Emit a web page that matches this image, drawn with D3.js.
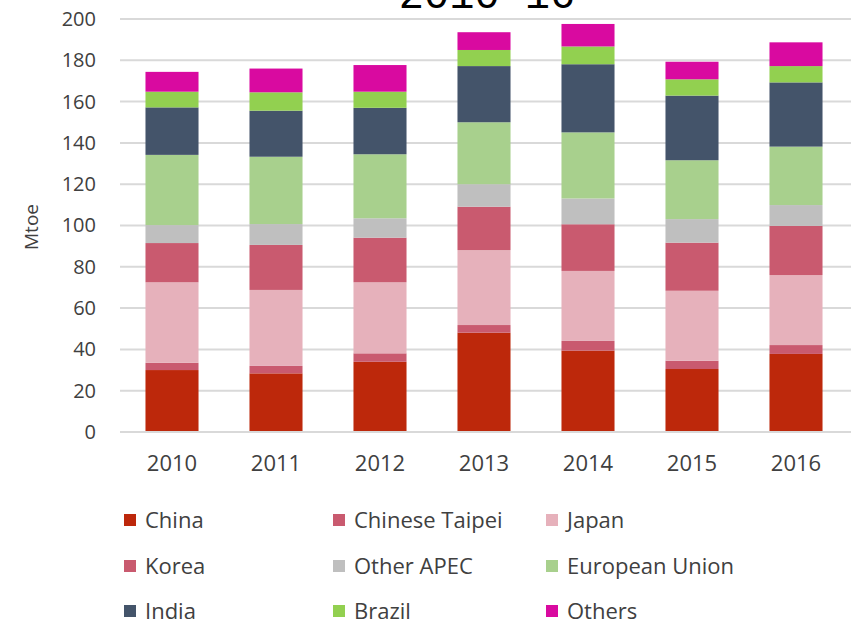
<!DOCTYPE html>
<html>
<head>
<meta charset="utf-8">
<script src="https://cdn.jsdelivr.net/npm/d3@7"></script>
<style>
  body { margin: 0; background: #fff; }
  svg { display: block; }
</style>
</head>
<body>
<script>
// years on the x axis
const years = ["2010", "2011", "2012", "2013", "2014", "2015", "2016"];

// series, bottom to top (Mtoe)
const china          = [30.0, 28.4, 34.0, 48.1, 39.4, 30.5, 37.8];
const chineseTaipei  = [3.5, 3.6, 4.1, 3.7, 4.7, 4.0, 4.3];
const japan          = [39.0, 36.8, 34.4, 36.3, 33.9, 33.9, 33.9];
const korea          = [19.0, 21.8, 21.6, 21.0, 22.6, 23.3, 23.8];
const otherApec      = [8.7, 10.1, 9.4, 10.9, 12.5, 11.4, 10.1];
const europeanUnion  = [34.0, 32.6, 31.0, 30.0, 32.0, 28.5, 28.3];
const india          = [23.0, 22.3, 22.5, 27.2, 33.0, 31.3, 31.1];
const brazil         = [7.6, 8.9, 7.8, 7.8, 8.6, 7.9, 7.9];
const others         = [9.6, 11.5, 12.9, 8.6, 10.9, 8.5, 11.5];

const seriesNames = ["China", "Chinese Taipei", "Japan", "Korea", "Other APEC",
                     "European Union", "India", "Brazil", "Others"];
const yTicks = [0, 20, 40, 60, 80, 100, 120, 140, 160, 180, 200];

const colors = {
  "China": "#bd280b",
  "Chinese Taipei": "#c95a6f",
  "Japan": "#e6b1bb",
  "Korea": "#c95a6f",
  "Other APEC": "#bfbfbf",
  "European Union": "#a8d08d",
  "India": "#44546a",
  "Brazil": "#92d050",
  "Others": "#d90aa0"
};

const seriesValues = [china, chineseTaipei, japan, korea, otherApec,
                      europeanUnion, india, brazil, others];

// table for d3.stack
const table = years.map((yr, i) => {
  const row = { year: yr };
  seriesNames.forEach((name, k) => { row[name] = seriesValues[k][i]; });
  return row;
});

const width = 851, height = 625;
const svg = d3.select("body").append("svg")
  .attr("width", width)
  .attr("height", height);

const x = d3.scaleBand()
  .domain(years)
  .range([120, 848])
  .paddingInner(0.49)
  .paddingOuter(0.245);

const y = d3.scaleLinear()
  .domain([0, 200])
  .range([432, 19]);

const fontFam = "'Open Sans', 'Liberation Sans', sans-serif";

// gridlines
svg.append("g")
  .selectAll("line")
  .data(yTicks.slice(1))
  .join("line")
  .attr("x1", 120)
  .attr("x2", 851)
  .attr("y1", d => y(d))
  .attr("y2", d => y(d))
  .attr("stroke", "#d9d9d9")
  .attr("stroke-width", 2);

// stacked bars
const stack = d3.stack().keys(seriesNames);
const layers = stack(table);

svg.append("g")
  .selectAll("g")
  .data(layers)
  .join("g")
  .attr("fill", d => colors[d.key])
  .selectAll("rect")
  .data(d => d)
  .join("rect")
  .attr("x", d => x(d.data.year))
  .attr("width", x.bandwidth())
  .attr("y", d => y(d[1]))
  .attr("height", d => y(d[0]) - y(d[1]));

// baseline
svg.append("line")
  .attr("x1", 120).attr("x2", 851)
  .attr("y1", y(0)).attr("y2", y(0))
  .attr("stroke", "#d9d9d9")
  .attr("stroke-width", 2);

// y axis
const yAxis = svg.append("g")
  .attr("transform", "translate(96,0)")
  .call(d3.axisLeft(y).tickValues(yTicks).tickSize(0).tickPadding(0));
yAxis.select(".domain").remove();
yAxis.selectAll("text")
  .attr("font-family", fontFam)
  .attr("font-size", 20)
  .attr("fill", "#404040");

// x axis
const xAxis = svg.append("g")
  .attr("transform", `translate(0,${y(0)})`)
  .call(d3.axisBottom(x).tickSize(0).tickPadding(23));
xAxis.select(".domain").remove();
xAxis.selectAll("text")
  .attr("font-family", fontFam)
  .attr("font-size", 22)
  .attr("fill", "#404040");

// y axis title
svg.append("text")
  .attr("transform", "translate(38,227) rotate(-90)")
  .attr("text-anchor", "middle")
  .attr("font-family", fontFam)
  .attr("font-size", 19)
  .attr("fill", "#404040")
  .text("Mtoe");

// title (cut off at the top)
svg.append("text")
  .attr("x", 487)
  .attr("y", 8)
  .attr("text-anchor", "middle")
  .attr("font-family", "'Liberation Mono', monospace")
  .attr("font-size", 42)
  .attr("fill", "#000")
  .text("2010-16");

// legend
const legendCols = [124, 333, 546];
const legendRows = [520, 566, 611];
const legend = svg.append("g")
  .selectAll("g")
  .data(seriesNames)
  .join("g")
  .attr("transform", (d, i) => `translate(${legendCols[i % 3]},${legendRows[Math.floor(i / 3)]})`);

legend.append("rect")
  .attr("x", 0)
  .attr("y", -6)
  .attr("width", 12)
  .attr("height", 12)
  .attr("fill", d => colors[d]);

legend.append("text")
  .attr("x", 21)
  .attr("y", 0)
  .attr("dy", "0.35em")
  .attr("font-family", fontFam)
  .attr("font-size", 22)
  .attr("fill", "#404040")
  .text(d => d);
</script>
</body>
</html>
